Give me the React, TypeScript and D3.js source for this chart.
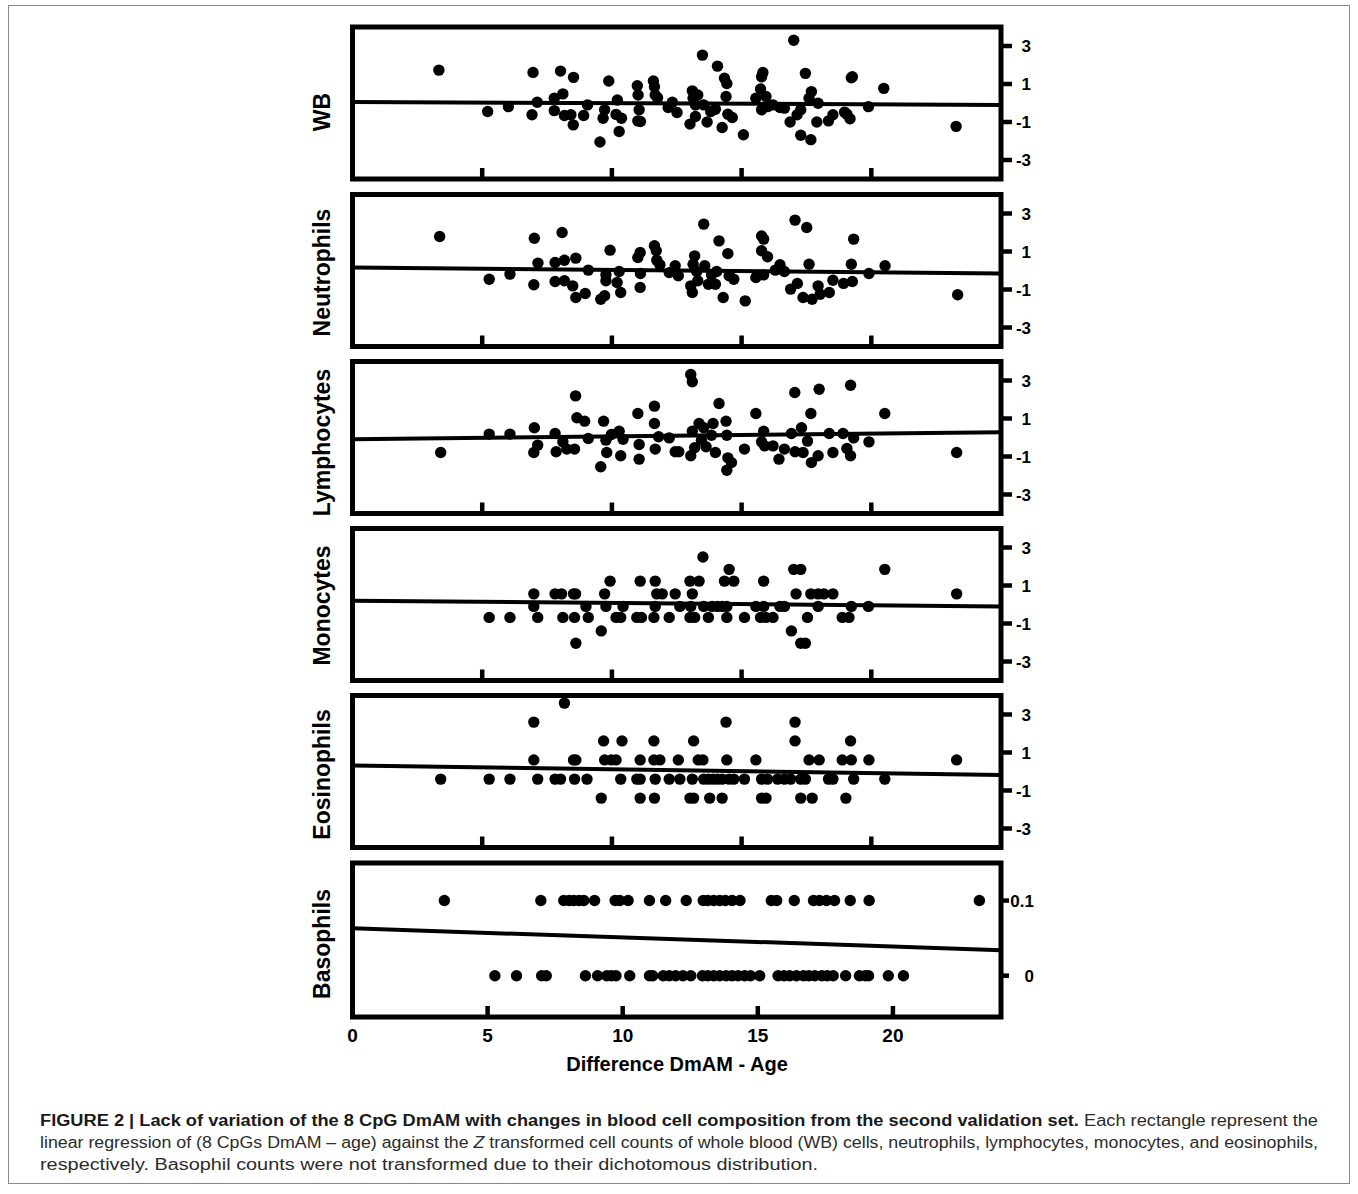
import React from 'react';
import * as d3 from 'd3';

// values: [difference DmAM - age, z score]
const wbPoints: [number, number][] = [
  [3.33, 1.73], [5.21, -0.45], [6.01, -0.19], [6.96, 1.61], [6.92, -0.62], [7.12, 0.04], [7.78, 0.25], [7.78, -0.4],
  [8.02, 1.68], [8.11, 0.48], [8.17, -0.66], [8.42, -0.62], [8.52, 1.35], [8.51, -1.15], [8.91, -0.66], [9.06, -0.1],
  [9.54, -2.05], [9.66, -0.8], [9.72, -0.36], [9.88, 1.16], [10.16, -0.6], [10.21, 0.16], [10.28, -1.5], [10.37, -0.8],
  [10.98, 0.91], [11.01, 0.42], [11.05, -0.36], [11.0, -0.94], [11.1, -0.97], [11.6, 1.16], [11.64, 0.86], [11.67, 0.42],
  [11.76, 0.28], [12.17, -0.24], [12.33, 0.04], [12.51, -0.5], [13.01, -1.11], [13.1, 0.64], [13.13, 0.25], [13.22, -0.1],
  [13.31, 0.42], [13.22, -0.71], [13.49, 2.52], [13.54, -0.1], [13.67, -1.0], [13.81, -0.45], [13.99, -0.33], [14.07, 1.94],
  [14.25, -1.29], [14.34, 1.3], [14.43, 1.03], [14.4, 0.34], [14.47, -0.59], [14.64, -0.76], [15.07, -1.67], [15.55, 0.25],
  [15.73, 0.74], [15.77, 1.38], [15.82, 1.61], [15.77, -0.36], [15.94, 0.34], [16.0, -0.19], [16.21, -0.1], [16.48, -0.24],
  [16.65, -0.27], [16.87, -1.0], [17.01, 3.3], [17.14, -0.62], [17.28, -1.7], [17.28, -0.36], [17.46, 1.56], [17.6, 0.25],
  [17.69, 0.6], [17.67, -1.93], [17.95, -0.01], [17.9, -1.0], [18.35, -0.94], [18.52, -0.62], [18.97, -0.48], [19.06, -0.59],
  [19.18, -0.83], [19.23, 1.33], [19.27, 1.38], [19.89, -0.19], [20.48, 0.77], [23.27, -1.23],
];

const neutroPoints: [number, number][] = [
  [3.36, 1.79], [5.27, -0.46], [6.07, -0.19], [7.01, 1.7], [6.99, -0.75], [7.15, 0.39], [7.81, 0.42], [7.81, -0.58],
  [8.08, 2.0], [8.17, 0.54], [8.17, -0.54], [8.49, -0.81], [8.61, 0.65], [8.61, -1.42], [8.97, -1.21], [9.09, 0.02],
  [9.57, -1.51], [9.72, -1.33], [9.77, -0.23], [9.77, -0.54], [9.93, 1.07], [10.2, -0.63], [10.28, -0.05], [10.34, -1.16],
  [11.0, 0.68], [11.09, 0.95], [11.1, -0.16], [11.09, -0.89], [11.64, 1.3], [11.71, 1.04], [11.73, 0.54], [11.85, 0.3],
  [12.21, -0.11], [12.44, 0.25], [12.56, -0.28], [13.04, -0.81], [13.1, -1.16], [13.19, 0.77], [13.13, 0.33], [13.27, -0.05],
  [13.31, -0.54], [13.54, 2.44], [13.58, 0.25], [13.72, -0.72], [13.84, -0.23], [13.99, -0.72], [14.04, -0.05], [14.13, 1.56],
  [14.29, -1.42], [14.47, 0.89], [14.52, -0.28], [14.7, -0.46], [15.14, -1.6], [15.55, -0.37], [15.77, 1.82], [15.85, 1.65],
  [15.77, 1.04], [16.0, 0.72], [15.85, -0.23], [16.3, 0.02], [16.48, 0.3], [16.65, -0.05], [16.89, -0.98], [17.06, 2.65],
  [17.15, -0.68], [17.37, -1.42], [17.51, 2.26], [17.6, 0.33], [17.72, -1.51], [17.95, -0.81], [18.03, -1.25], [18.38, -1.16],
  [18.52, -0.51], [18.93, -0.68], [19.23, 0.33], [19.27, -0.58], [19.32, 1.65], [19.91, -0.16], [20.53, 0.25], [23.33, -1.28],
];

const lymphoPoints: [number, number][] = [
  [3.4, -0.79], [5.27, 0.18], [6.07, 0.18], [7.01, 0.51], [7.14, -0.4], [6.99, -0.79], [7.81, 0.21], [7.85, -0.75],
  [8.11, -0.23], [8.26, -0.61], [8.56, -0.61], [8.6, 2.19], [8.65, 1.04], [8.95, 0.86], [9.09, -0.05], [9.57, -1.54],
  [9.68, 0.86], [9.77, -0.14], [9.8, -0.79], [9.98, 0.16], [10.28, 0.33], [10.34, -0.96], [10.43, -0.09], [11.0, 1.26],
  [11.05, -0.37], [11.05, -1.14], [11.64, 1.65], [11.64, 0.74], [11.67, -0.61], [11.8, 0.04], [12.21, -0.02], [12.44, -0.75],
  [12.58, -0.75], [13.04, 3.32], [13.1, 2.93], [13.1, 0.33], [13.04, -0.96], [13.19, -0.54], [13.36, 0.74], [13.45, -0.14],
  [13.54, 0.51], [13.63, -0.49], [13.84, 0.12], [13.9, 0.74], [13.99, -0.79], [14.13, 1.79], [14.4, 0.86], [14.43, 0.12],
  [14.47, -1.07], [14.61, -1.32], [14.43, -1.72], [15.11, -0.61], [15.55, 1.26], [15.85, 0.33], [15.77, -0.23], [15.89, -0.44],
  [16.21, -0.44], [16.44, -1.14], [16.65, -0.61], [16.92, 0.21], [17.05, 2.37], [17.06, -0.75], [17.31, 0.51], [17.37, -0.79],
  [17.54, -0.19], [17.67, 1.26], [17.69, -1.32], [17.95, -0.96], [17.99, 2.54], [18.38, 0.21], [18.52, -0.79], [18.91, 0.21],
  [19.06, -0.58], [19.2, 2.75], [19.2, -0.96], [19.32, -0.02], [19.91, -0.23], [20.52, 1.26], [23.29, -0.79],
];

const monoPoints: [number, number][] = [
  [5.27, -0.68], [6.07, -0.68], [6.99, 0.56], [6.99, -0.1], [7.14, -0.68], [7.81, 0.56], [8.06, 0.56], [8.11, -0.68],
  [8.52, 0.56], [8.6, 0.56], [8.56, -0.68], [8.61, -2.04], [9.0, -0.1], [9.09, -0.68], [9.59, -1.39], [9.72, 0.56],
  [9.77, -0.1], [9.93, 1.23], [10.16, -0.68], [10.34, -0.68], [10.43, -0.1], [10.96, -0.68], [11.09, 1.23], [11.14, -0.68],
  [11.62, -0.68], [11.67, -0.1], [11.67, 1.23], [11.73, 0.56], [11.94, 0.56], [12.21, -0.68], [12.44, 0.56], [12.62, -0.1],
  [13.01, 1.23], [13.1, 0.56], [13.04, -0.1], [13.01, -0.68], [13.19, -0.68], [13.36, 1.23], [13.51, 2.5], [13.54, -0.1],
  [13.72, -0.68], [13.86, -0.1], [14.07, -0.1], [14.25, -0.1], [14.43, -0.1], [14.34, 1.23], [14.52, 1.85], [14.7, 1.23],
  [14.43, -0.68], [15.11, -0.68], [15.55, -0.1], [15.73, -0.68], [15.85, 1.23], [15.85, -0.1], [15.94, -0.68], [16.21, -0.68],
  [16.48, -0.1], [16.65, -0.1], [16.92, -1.39], [17.01, 1.85], [17.28, 1.85], [17.1, 0.56], [17.28, -2.04], [17.46, -2.04],
  [17.54, -0.68], [17.67, 0.56], [17.95, 0.56], [17.95, -0.1], [18.17, 0.56], [18.52, 0.56], [18.88, -0.68], [19.14, -0.68],
  [19.23, -0.1], [19.89, -0.1], [20.52, 1.85], [23.29, 0.56],
];

const eosinoPoints: [number, number][] = [
  [3.4, -0.4], [5.27, -0.4], [6.07, -0.4], [6.99, 2.6], [6.99, 0.61], [7.14, -0.4], [7.81, -0.4], [8.02, -0.4],
  [8.17, 3.6], [8.52, 0.61], [8.61, 0.61], [8.56, -0.4], [9.04, -0.4], [9.59, -1.4], [9.68, 1.61], [9.72, 0.61],
  [9.98, 0.61], [10.16, 0.61], [10.34, -0.4], [10.39, 1.61], [10.96, -0.4], [11.09, 0.61], [11.09, -0.4], [11.09, -1.4],
  [11.62, 1.61], [11.62, 0.61], [11.67, -0.4], [11.64, -1.4], [11.85, 0.61], [12.21, -0.4], [12.56, 0.61], [12.62, -0.4],
  [13.1, -0.4], [13.01, -1.4], [13.15, -1.4], [13.15, 1.61], [13.33, 0.61], [13.51, 0.61], [13.54, -0.4], [13.72, -0.4],
  [13.77, -1.4], [13.9, -0.4], [14.07, -0.4], [14.25, -0.4], [14.25, -1.4], [14.4, 2.6], [14.43, 0.61], [14.52, -0.4],
  [14.7, -0.4], [15.11, -0.4], [15.55, 0.61], [15.77, -0.4], [15.77, -1.4], [15.94, -1.4], [16.0, -0.4], [16.39, -0.4],
  [16.65, -0.4], [16.89, -0.4], [17.06, 2.6], [17.06, 1.61], [17.28, -0.4], [17.28, -1.4], [17.46, -0.4], [17.6, 0.61],
  [17.72, -1.4], [17.99, 0.61], [18.35, -0.4], [18.52, -0.4], [18.88, 0.61], [19.02, -1.4], [19.2, 1.61], [19.23, 0.61],
  [19.32, -0.4], [19.91, 0.61], [20.52, -0.4], [23.29, 0.61],
];

// basophils only take two values
const basoHighX = [
  3.4, 6.97, 7.82, 8.02, 8.19, 8.39, 8.56, 8.96, 9.72, 9.89, 10.2, 10.99, 11.59, 12.35, 12.98, 13.15,
  13.37, 13.59, 13.8, 14.05, 14.34, 15.5, 15.7, 16.35, 17.06, 17.28, 17.54, 17.84, 18.42, 19.12, 23.2,
];
const basoLowX = [
  5.27, 6.07, 7.0, 7.17, 8.62, 9.07, 9.41, 9.58, 9.75, 10.26, 10.99, 11.11, 11.5, 11.72, 11.96, 12.23,
  12.52, 12.95, 13.15, 13.37, 13.59, 13.83, 14.05, 14.27, 14.51, 14.73, 15.07, 15.75, 15.97, 16.18, 16.43, 16.69,
  16.89, 17.11, 17.37, 17.57, 17.79, 18.25, 18.76, 18.98, 19.1, 19.83, 20.39,
];
const basoPoints: [number, number][] = [
  ...basoHighX.map((v) => [v, 0.1] as [number, number]),
  ...basoLowX.map((v) => [v, 0] as [number, number]),
];

// regression lines, value at both ends of the x axis
const wbFit: [number, number][] = [[0, 0.05], [25, -0.1]];
const neutroFit: [number, number][] = [[0, 0.16], [25, -0.16]];
const lymphoFit: [number, number][] = [[0, -0.09], [25, 0.28]];
const monoFit: [number, number][] = [[0, 0.2], [25, -0.1]];
const eosinoFit: [number, number][] = [[0, 0.32], [25, -0.18]];
const basoFit: [number, number][] = [[0, 0.063], [24, 0.034]];

const zTicks = [3, 1, -1, -3];
const basoTicks = [0.1, 0];
const innerXTicks = [5, 10, 15, 20];
const xTickLabels = [0, 5, 10, 15, 20];

const LEFT = 352.5;
const RIGHT = 1001;
const FONT = '"Liberation Sans", Arial, Helvetica, sans-serif';

const panels = [
  { name: 'WB', points: wbPoints, fit: wbFit, top: 27, height: 152, xMax: 25, yDomain: [-4, 4], ticks: zTicks, tickLen: 11, labelEnd: 1031, labelShift: 9 },
  { name: 'Neutrophils', points: neutroPoints, fit: neutroFit, top: 194.5, height: 152, xMax: 25, yDomain: [-4, 4], ticks: zTicks, tickLen: 11, labelEnd: 1031, labelShift: 2 },
  { name: 'Lymphocytes', points: lymphoPoints, fit: lymphoFit, top: 361.5, height: 152, xMax: 25, yDomain: [-4, 4], ticks: zTicks, tickLen: 11, labelEnd: 1031, labelShift: 5 },
  { name: 'Monocytes', points: monoPoints, fit: monoFit, top: 528.5, height: 152, xMax: 25, yDomain: [-4, 4], ticks: zTicks, tickLen: 11, labelEnd: 1031, labelShift: 1 },
  { name: 'Eosinophils', points: eosinoPoints, fit: eosinoFit, top: 695.5, height: 152, xMax: 25, yDomain: [-4, 4], ticks: zTicks, tickLen: 11, labelEnd: 1031, labelShift: 3 },
  { name: 'Basophils', points: basoPoints, fit: basoFit, top: 863, height: 154, xMax: 24, yDomain: [-0.055, 0.15], ticks: basoTicks, tickLen: 8, labelEnd: 1034, labelShift: 4 },
];

type PanelDef = (typeof panels)[number];

const Panel = ({ p, last }: { p: PanelDef; last: boolean }) => {
  const x = d3.scaleLinear().domain([0, p.xMax]).range([LEFT, RIGHT]);
  const y = d3.scaleLinear().domain(p.yDomain).range([p.top + p.height, p.top]);
  const line = d3.line<[number, number]>().x((d) => x(d[0])).y((d) => y(d[1]));
  const bottom = p.top + p.height;

  return (
    <g>
      {p.points.map(([a, b], i) => (
        <circle key={i} cx={x(a)} cy={y(b)} r={5.7} fill="#000" />
      ))}
      <path d={line(p.fit) || ''} fill="none" stroke="#000" strokeWidth={4} />
      <rect x={LEFT} y={p.top} width={RIGHT - LEFT} height={p.height} fill="none" stroke="#000" strokeWidth={5} />
      {innerXTicks.map((t) => (
        <line key={t} x1={x(t)} x2={x(t)} y1={bottom} y2={bottom - 11} stroke="#000" strokeWidth={4.5} />
      ))}
      {p.ticks.map((t) => (
        <g key={t}>
          <line x1={RIGHT} x2={RIGHT + p.tickLen} y1={y(t)} y2={y(t)} stroke="#000" strokeWidth={4.5} />
          <text x={p.labelEnd} y={y(t)} dy="0.36em" textAnchor="end" fontSize={17} fontWeight="bold" fontFamily={FONT}>
            {String(t)}
          </text>
        </g>
      ))}
      <text
        transform={`translate(330, ${p.top + p.height / 2 + p.labelShift}) rotate(-90)`}
        textAnchor="middle"
        fontSize={23}
        fontWeight="bold"
        fontFamily={FONT}
      >
        {p.name}
      </text>
      {last && (
        <g>
          {xTickLabels.map((t) => (
            <text key={t} x={x(t)} y={bottom + 25} textAnchor="middle" fontSize={19} fontWeight="bold" fontFamily={FONT}>
              {t}
            </text>
          ))}
          <text x={677} y={bottom + 54} textAnchor="middle" fontSize={20} fontWeight="bold" fontFamily={FONT}>
            Difference DmAM - Age
          </text>
        </g>
      )}
    </g>
  );
};

const App = () => {
  return (
    <svg
      width={1358}
      height={1194}
      style={{ position: 'absolute', left: 0, top: 0, display: 'block', background: '#fff' }}
    >
      <rect x={8.5} y={5.5} width={1341} height={1178} fill="#fff" stroke="#8a8a8a" strokeWidth={1} />
      {panels.map((p, i) => (
        <Panel key={p.name} p={p} last={i === panels.length - 1} />
      ))}
      <g fontFamily={FONT} fontSize={16} fill="#2b2b2b">
        <text x={40} y={1126} textLength={1278} lengthAdjust="spacingAndGlyphs">
          <tspan fontWeight="bold" fill="#1a1a1a">
            FIGURE 2 | Lack of variation of the 8 CpG DmAM with changes in blood cell composition from the second validation set.
          </tspan>
          <tspan> Each rectangle represent the</tspan>
        </text>
        <text x={40} y={1148} textLength={1278} lengthAdjust="spacingAndGlyphs">
          linear regression of (8 CpGs DmAM – age) against the <tspan fontStyle="italic">Z</tspan> transformed cell counts of whole
          blood (WB) cells, neutrophils, lymphocytes, monocytes, and eosinophils,
        </text>
        <text x={40} y={1170} textLength={778} lengthAdjust="spacingAndGlyphs">
          respectively. Basophil counts were not transformed due to their dichotomous distribution.
        </text>
      </g>
    </svg>
  );
};

export default App;
